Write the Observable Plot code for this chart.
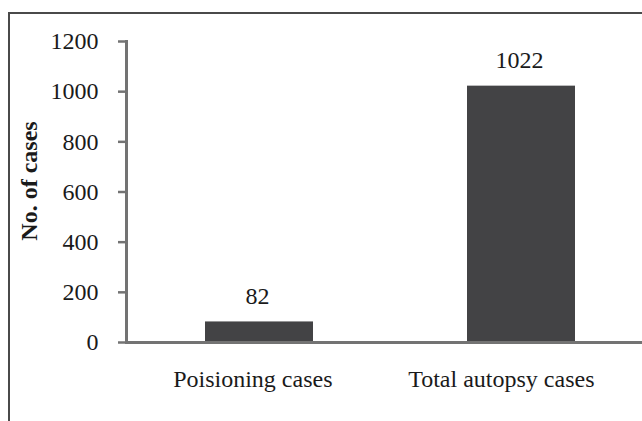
<!DOCTYPE html>
<html><head><meta charset="utf-8">
<script src="https://cdn.jsdelivr.net/npm/d3@7"></script>
<script src="https://cdn.jsdelivr.net/npm/@observablehq/plot@0.6"></script>
<style>
body{margin:0;background:#fff;}
#wrap{position:relative;width:642px;height:421px;overflow:hidden;}
#wrap svg{position:absolute;left:0;top:0;}
#wrap svg, #wrap svg text{font-family:"Liberation Serif","Times New Roman",serif !important;}
#border{position:absolute;left:8px;top:12px;width:700px;height:500px;border-top:2px solid #4a4a4a;border-left:2px solid #4a4a4a;}
</style></head><body><div id="wrap"></div>
<script>
const categories = ["Poisioning cases", "Total autopsy cases"];
const values = [82, 1022];
const yTicks = [0, 200, 400, 600, 800, 1000, 1200];
const yLabel = "No. of cases";

const data = categories.map((c, i) => ({category: c, value: values[i]}));
const font = "Liberation Serif";

const chart = Plot.plot({
  width: 642, height: 421,
  marginLeft: 126, marginRight: 0, marginTop: 41, marginBottom: 79,
  style: {fontFamily: font, color: "#1a1a1a", background: "transparent"},
  x: {domain: categories, paddingInner: 0.589, paddingOuter: 0.276, align: 0.538, axis: null},
  y: {domain: [0, 1200], axis: null},
  marks: [
    Plot.barY(data, {x: "category", y: "value", fill: "#434345"}),
    Plot.axisY({ticks: yTicks, tickFormat: d => String(d), tickSize: 8, tickPadding: 20, fontSize: 24, fontFamily: font, stroke: "#737373", fill: "#1a1a1a", strokeWidth: 2.5, label: null}),
    Plot.frame({anchor: "left", stroke: "#737373", strokeWidth: 3}),
    Plot.ruleY([0], {stroke: "#737373", strokeWidth: 3}),
    Plot.text(data, {x: "category", y: "value", text: d => String(d.value), lineAnchor: "bottom", dy: -18, dx: -2, fontSize: 24, fontFamily: font, fill: "#1a1a1a"}),
    Plot.text(categories, {x: d => d, y: () => 0, text: d => d, textAnchor: "end", dx: 73, dy: 37, fontSize: 24, fontFamily: font, fill: "#1a1a1a"}),
    Plot.text([yLabel], {frameAnchor: "left", textAnchor: "middle", text: d => d, rotate: -90, dx: -97, dy: -11, fontSize: 24, fontWeight: "bold", fontFamily: font, fill: "#1a1a1a"})
  ]
});
const wrap = document.getElementById("wrap");
wrap.appendChild(chart);
const b = document.createElement("div");
b.id = "border";
wrap.appendChild(b);
</script>
</body></html>
